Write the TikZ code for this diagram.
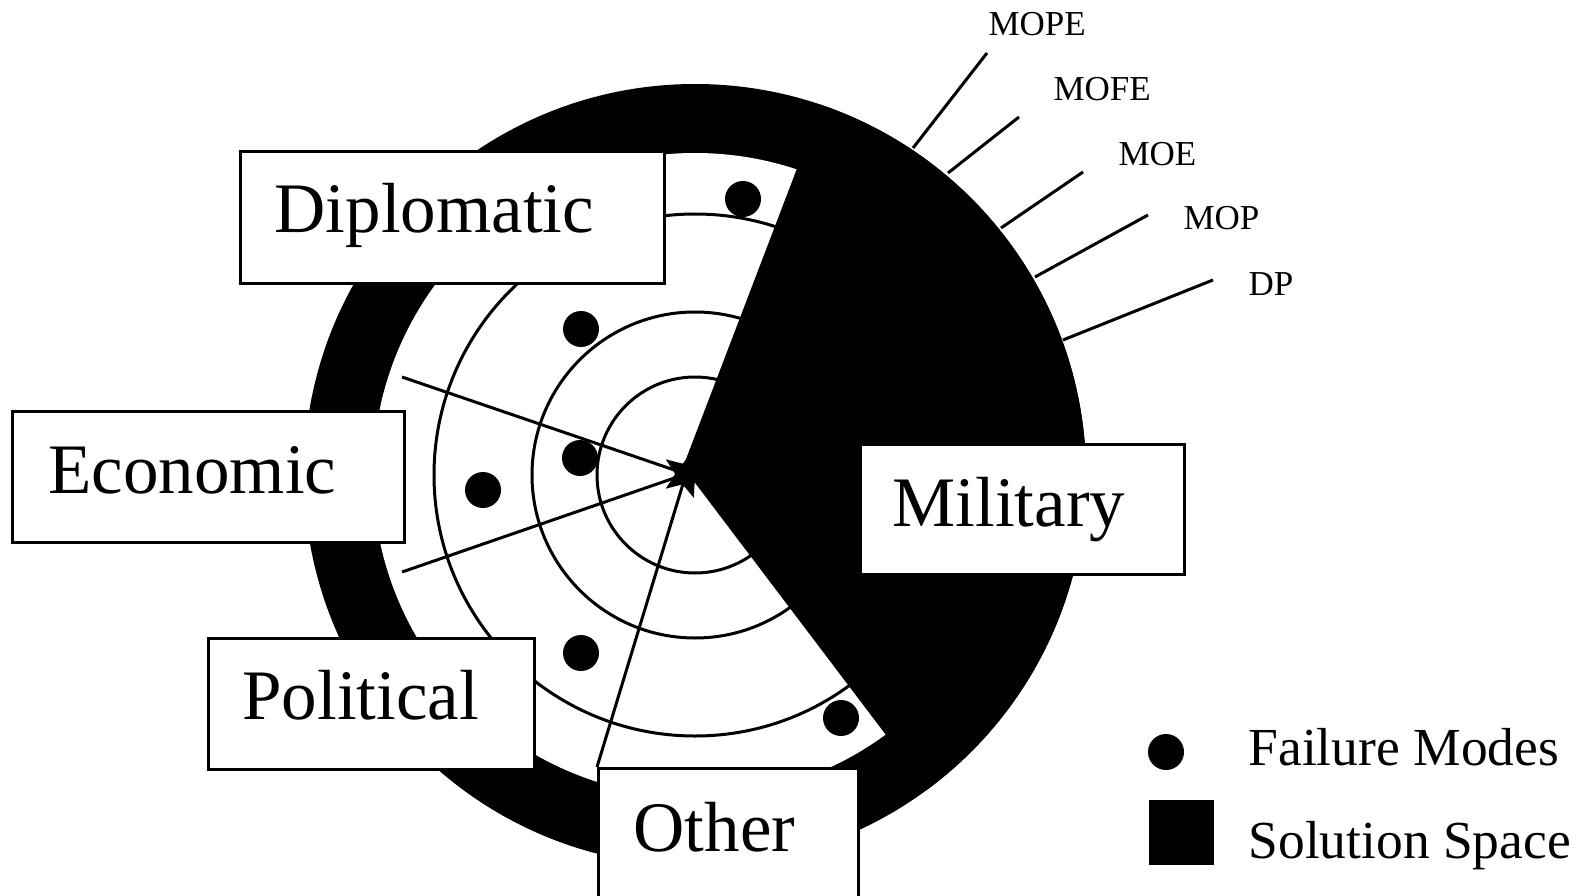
\documentclass[tikz,border=0pt]{standalone}
\usepackage{fontspec}
\setmainfont{Liberation Serif}
\usetikzlibrary{shapes.geometric,calc}
\begin{document}
\begin{tikzpicture}[x=1pt,y=-1pt,line width=3pt,
  box/.style={draw,fill=white,line width=3pt,anchor=north west,inner sep=0pt},
  lbl/.style={font=\fontsize{71}{80}\selectfont,anchor=base west,inner sep=0pt},
  small/.style={font=\fontsize{35}{40}\selectfont,anchor=base west,inner sep=0pt},
  leg/.style={font=\fontsize{53.5}{60}\selectfont,anchor=base west,inner sep=0pt},
  fm/.style={circle,fill=black,minimum size=36pt,inner sep=0pt},
  leader/.style={draw,line width=3pt}]
\useasboundingbox[fill=white] (0,0) rectangle (1588,896);
\coordinate (O) at (695,475);
% rings
\fill[black] (O) circle[radius=391];
\fill[white] (O) circle[radius=322];
\draw (O) circle[radius=98];
\draw (O) circle[radius=163];
\draw (O) circle[radius=261];
% hub and converging lines
\coordinate (hub) at (686,474);
\coordinate (e1) at (402,377);
\coordinate (e2) at (402,572);
\coordinate (e3) at (597,767);
\draw (e1) -- (hub);
\draw (e2) -- (hub);
\draw (e3) -- (hub);
% solution space sector
\fill[black] (683,467) -- ($(O)+(-71.6:322)$) -- ($(O)+(-71.6:391)$)
  arc[start angle=-71.6,end angle=53.7,radius=391] -- ($(O)+(53.7:322)$) -- cycle;
\node[star,star points=5,star point ratio=2.3,fill=black,minimum size=50pt,inner sep=0pt,shape border rotate=-18] (star) at (hub) {};
% failure modes
\node[fm] (f1) at (743,199) {};
\node[fm] (f2) at (581,329) {};
\node[fm] (f3) at (580,458) {};
\node[fm] (f4) at (483,490) {};
\node[fm] (f5) at (581,653) {};
\node[fm] (f6) at (841,718) {};
% boxes
\node[box,minimum width=424pt,minimum height=132pt] (dipl) at (239,150) {};
\node[lbl] (diplt) at (273,233) {Diplomatic};
\node[box,minimum width=392pt,minimum height=131pt] (econ) at (11,410) {};
\node[lbl] (econt) at (47,493) {Economic};
\node[box,minimum width=324pt,minimum height=130pt] (mil) at (859,443) {};
\node[lbl] (milt) at (891,526) {Military};
\node[box,minimum width=326pt,minimum height=131pt] (pol) at (207,637) {};
\node[lbl] (polt) at (241,719) {Political};
\node[box,minimum width=260pt,minimum height=200pt] (oth) at (597,767) {};
\node[lbl] (otht) at (632,851) {Other};
% measures
\coordinate (s1) at (913,148); \coordinate (t1) at (987,53);
\coordinate (s2) at (948,173); \coordinate (t2) at (1019,117);
\coordinate (s3) at (1001,228); \coordinate (t3) at (1083,172);
\coordinate (s4) at (1035,277); \coordinate (t4) at (1148,215);
\coordinate (s5) at (1063,340); \coordinate (t5) at (1213,280);
\draw[leader] (s1) -- (t1);
\draw[leader] (s2) -- (t2);
\draw[leader] (s3) -- (t3);
\draw[leader] (s4) -- (t4);
\draw[leader] (s5) -- (t5);
\node[small] (mope) at (987,36) {MOPE};
\node[small] (mofe) at (1052,101) {MOFE};
\node[small] (moe) at (1117,166) {MOE};
\node[small] (mop) at (1182,230) {MOP};
\node[small] (dp) at (1247,295) {DP};
% legend
\node[fm] (legdot) at (1166,752) {};
\node[fill=black,minimum size=65pt,inner sep=0pt] (legsq) at (1181.5,832.5) {};
\node[leg] (legfm) at (1247,765) {Failure Modes};
\node[leg] (legss) at (1247,858) {Solution Space};
\end{tikzpicture}
\end{document}
